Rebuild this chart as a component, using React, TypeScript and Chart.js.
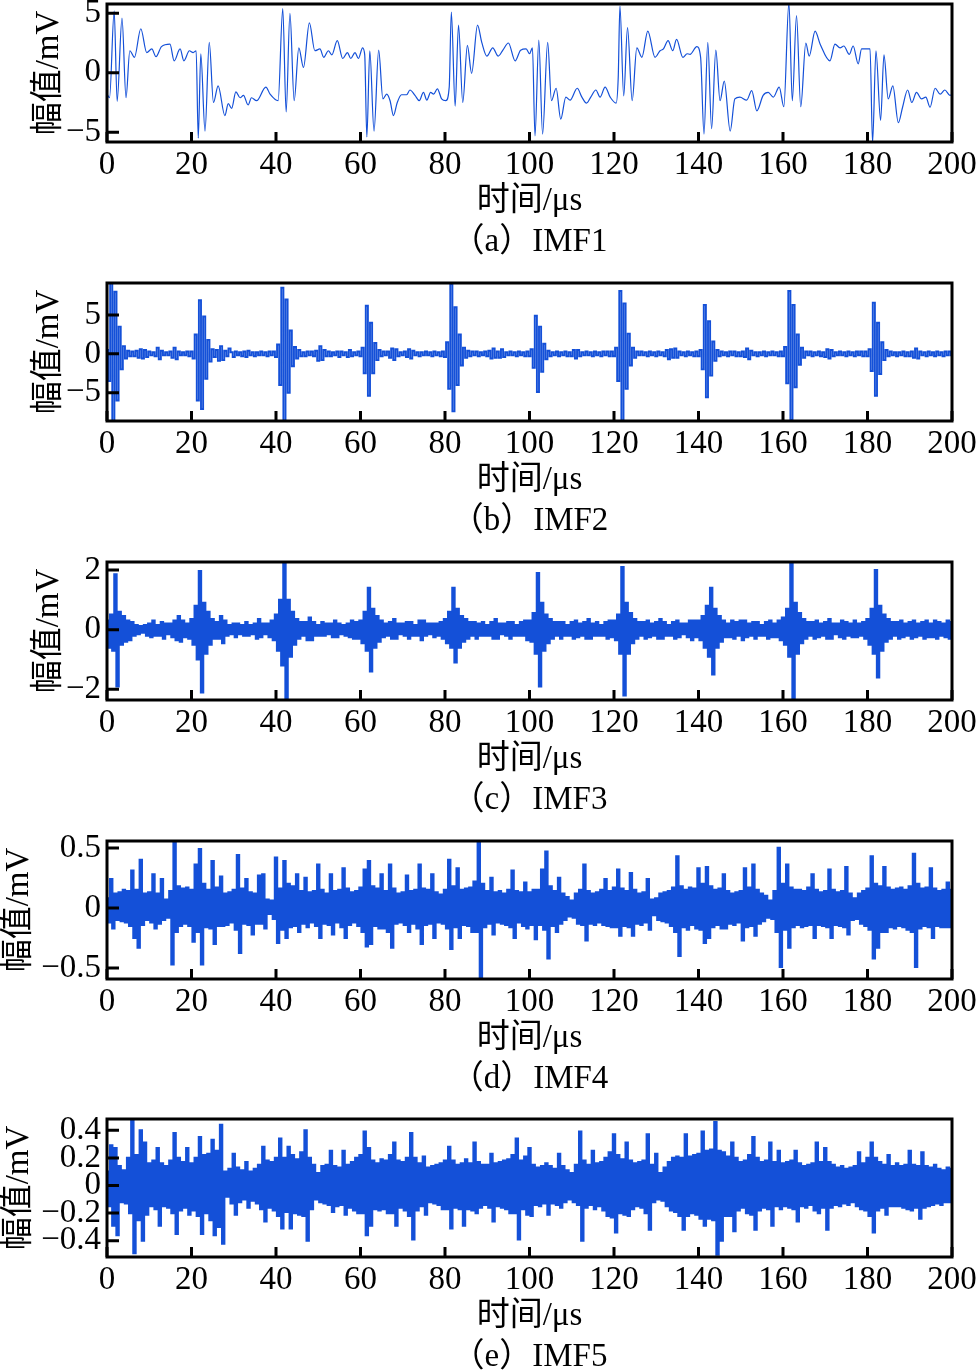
import React, { useEffect, useRef } from 'react';
import { Chart, registerables } from 'chart.js';

Chart.register(...registerables);

// ---------- data ----------
const STEP = 0.5; // µs between samples of the dense traces (IMF2..IMF5)
const X_TICKS = [0, 20, 40, 60, 80, 100, 120, 140, 160, 180, 200];

// IMF1: turning points (time µs, value mV)
const IMF1_T = [
  0, 0.6, 1.7, 2.4, 3.55, 4.5, 5.4, 6.5, 8.0, 9.4, 10.6, 11.6, 12.9, 14.9, 15.9, 17.3, 18.2, 19.5, 20.4, 21.1,
  21.6, 22.2, 23.2, 24.2, 25.2, 26.3, 27.9, 28.7, 29.5, 30.5, 31.5, 32.3, 33.4, 34.2, 35.4, 37.6, 38.6, 40.5,
  41.6, 42.4, 43.3, 44.3, 45.4, 46.5, 47.9, 49.2, 50.4, 51.3, 52.4, 53.2, 54.5, 55.8, 56.9, 57.7, 58.7, 59.5, 60.5, 61.0,
  61.5, 62.2, 63.2, 64.3, 65.3, 66.2, 67.0, 67.8, 68.7, 69.7, 70.9, 71.7, 72.9, 73.9, 74.9, 75.7, 76.6, 77.3, 78.2, 79.2, 80.2, 81.0,
  81.5, 82.4, 83.2, 84.2, 85.3, 86.3, 87.7, 88.7, 89.9, 91.3, 92.6, 93.7, 95.0, 96.6, 97.9, 99.2, 100.0, 100.7,
  101.3, 102.2, 103.1, 104.3, 105.2, 106.3, 107.4, 108.6, 109.6, 111.3, 112.4, 113.5, 114.5, 115.7, 116.7, 117.9, 119.1, 120.5, 121.0,
  121.4, 122.3, 123.2, 124.3, 125.4, 126.6, 128.0, 129.7, 130.9, 131.7, 132.8, 133.9, 134.8, 136.3, 137.3, 138.0, 139.6, 140.5,
  141.3, 142.2, 143.1, 144.1, 145.1, 146.1, 147.5, 148.6, 149.8, 151.4, 152.6, 153.8, 155.3, 156.5, 157.7, 159.1, 160.2,
  161.4, 162.2, 163.2, 164.2, 165.4, 166.2, 167.6, 168.8, 171.1, 172.3, 173.5, 174.4, 175.7, 176.6, 177.8, 178.6, 180.6,
  181.2, 182.0, 183.1, 183.9, 184.9, 186.0, 187.3, 188.3, 189.5, 190.5, 191.6, 192.8, 193.8, 194.8, 196.0, 197.2, 198.3, 199.5, 200
];
const IMF1_V = [
  -1.8, -2.1, 5.2, -2.4, 4.6, -2.1, 1.85, 1.3, 3.7, 1.7, 2.0, 1.35, 2.2, 2.4, 1.0, 2.0, 1.0, 1.85, 1.7, 1.85,
  -5.5, 1.6, -4.9, 2.55, -2.5, -1.1, -3.6, -2.6, -3.0, -1.6, -2.1, -1.9, -2.7, -2.1, -2.35, -1.2, -1.8, -2.35,
  5.4, -3.3, 5.0, -2.35, 2.1, 0.45, 4.2, 1.85, 2.0, 1.3, 1.85, 1.5, 2.7, 1.2, 1.7, 1.2, 1.7, 1.2, 2.1, 1.5,
  -5.4, 1.85, -4.9, 1.9, -2.2, -1.8, -2.35, -3.6, -2.5, -1.85, -1.85, -1.45, -1.9, -2.35, -1.65, -2.3, -1.65, -1.8, -1.35, -2.2, -2.35, -1.2,
  5.1, -2.8, 4.0, -2.5, 2.3, -0.05, 4.0, 2.55, 1.4, 2.1, 1.4, 1.9, 2.5, 1.0, 1.9, 2.0, 1.6, 2.1,
  -5.3, 2.75, -5.15, 2.55, -2.35, -1.3, -3.9, -2.05, -2.3, -1.3, -2.05, -2.55, -2.05, -1.45, -2.05, -1.2, -2.05, -2.55, -0.4,
  5.6, -1.95, 3.8, -2.35, 2.1, 1.3, 3.5, 1.3, 1.85, 2.0, 2.7, 1.85, 2.8, 1.3, 1.6, 1.55, 2.2, 1.3,
  -5.15, 2.55, -4.7, 1.9, -2.35, -0.7, -4.9, -2.2, -2.05, -2.3, -1.5, -3.2, -1.9, -1.65, -2.05, -1.2, -2.85,
  5.9, -2.35, 4.8, -2.85, 2.5, 1.4, 3.5, 2.4, 1.0, 2.4, 2.1, 2.25, 1.55, 2.25, 0.75, 2.0, 2.0,
  -5.9, 1.85, -4.0, 1.5, -2.2, -1.1, -4.2, -2.9, -1.45, -2.5, -1.65, -2.2, -2.05, -2.9, -1.3, -1.8, -1.45, -1.9, -1.8
];

// IMF2 samples (mV), one every STEP µs, 0..200 µs
const IMF2 = [
  0.5, -3.5, 9.5, -9.5, 8, -6, 3.5, -2, 1.0, -0.6, 0.4, -0.3, 0.3, -0.3, 0.4, -0.5, 0.6, -0.6, 0.5, -0.4,
  0.3, -0.2, 0.2, -0.3, 0.8, -0.7, 0.4, -0.2, 0.2, -0.2, 0.3, -0.5, 0.8, -0.7, 0.3, -0.2, 0.2, -0.2, 0.3, -0.3,
  0.3, -0.6, 2.5, -6.0, 6.9, -7.1, 4.8, -3.2, 1.8, -1.0, 0.6, -0.4, 0.5, -0.9, 1.0, -0.8, 0.4, -0.3, 0.7, 0.2,
  -0.4, 0.3, -0.2, 0.2, -0.3, 0.3, -0.4, 0.4, -0.2, 0.2, -0.3, 0.2, -0.2, 0.3, -0.2, 0.2, -0.3, 0.3, -0.2, 0.3,
  -0.4, 1.2, -4, 8.5, -8.9, 7, -5, 3, -1.6, 0.9, -0.6, 0.5, -0.3, 0.2, -0.3, 0.3, -0.2, 0.3, -0.3, 0.4,
  -0.9, 1.0, -0.8, 0.5, -0.3, 0.3, -0.3, 0.2, -0.2, 0.3, -0.4, 0.3, -0.2, 0.2, -0.4, 0.5, -0.3, 0.2, -0.2, 0.3,
  -0.3, 0.8, -2.5, 6.2, -5.4, 4, -2.5, 1.4, -0.8, 0.5, -0.3, 0.3, -0.2, 0.3, -0.5, 0.7, -0.8, 0.6, -0.3, 0.2,
  -0.2, 0.3, -0.4, 0.6, -0.6, 0.4, -0.2, 0.2, -0.3, 0.2, -0.2, 0.3, -0.2, 0.2, -0.3, 0.3, -0.2, 0.2, -0.3, 0.3,
  -0.4, 1.5, -4.5, 9.0, -7.4, 6, -4, 2.5, -1.5, 0.8, -0.5, 0.4, -0.3, 0.3, -0.2, 0.3, -0.3, 0.2, -0.2, 0.3,
  -0.3, 0.4, -0.6, 0.7, -0.5, 0.3, -0.5, 0.6, -0.4, 0.2, -0.2, 0.3, -0.2, 0.2, -0.3, 0.3, -0.2, 0.2, -0.3, 0.3,
  -0.3, 0.6, -1.8, 4.9, -4.9, 3.5, -2.3, 1.3, -0.7, 0.4, -0.3, 0.2, -0.2, 0.3, -0.3, 0.2, -0.2, 0.3, -0.3, 0.2,
  -0.3, 0.5, -0.6, 0.5, -0.3, 0.2, -0.2, 0.3, -0.2, 0.2, -0.3, 0.3, -0.2, 0.2, -0.3, 0.3, -0.2, 0.3, -0.3, 0.3,
  -0.3, 0.8, -3.5, 8.1, -8.6, 6.5, -4.5, 2.6, -1.5, 0.8, -0.5, 0.3, -0.2, 0.3, -0.2, 0.2, -0.3, 0.3, -0.2, 0.2,
  -0.3, 0.3, -0.2, 0.2, -0.3, 0.5, -0.7, 0.6, -0.5, 0.7, -0.5, 0.3, -0.2, 0.2, -0.3, 0.3, -0.2, 0.2, -0.3, 0.3,
  -0.3, 0.5, -2, 6.3, -5.6, 4.2, -2.8, 1.6, -0.9, 0.5, -0.3, 0.3, -0.2, 0.2, -0.3, 0.3, -0.2, 0.3, -0.3, 0.2,
  -0.3, 0.3, -0.4, 0.7, -0.7, 0.4, -0.2, 0.2, -0.3, 0.2, -0.2, 0.3, -0.3, 0.2, -0.2, 0.3, -0.2, 0.2, -0.3, 0.3,
  -0.3, 0.9, -3.8, 8.1, -8.5, 6.3, -4.3, 2.5, -1.4, 0.8, -0.5, 0.3, -0.2, 0.3, -0.3, 0.2, -0.2, 0.3, -0.3, 0.2,
  -0.4, 0.6, -0.6, 0.5, -0.3, 0.2, -0.2, 0.3, -0.2, 0.2, -0.3, 0.3, -0.2, 0.2, -0.3, 0.3, -0.2, 0.3, -0.3, 0.3,
  -0.3, 0.6, -2.2, 6.6, -5.4, 4, -2.6, 1.5, -0.8, 0.5, -0.3, 0.3, -0.2, 0.2, -0.3, 0.2, -0.2, 0.3, -0.3, 0.2,
  -0.3, 0.3, -0.5, 0.7, -0.6, 0.3, -0.2, 0.2, -0.3, 0.3, -0.2, 0.2, -0.3, 0.3, -0.2, 0.2, -0.3, 0.3, -0.2, 0.3,
  -0.2
];

// IMF3 samples (mV)
const IMF3 = [
  0.3, -0.6, 0.5, -0.7, 1.85, -1.9, 0.6, -0.5, 0.45, -0.4, 0.3, -0.35, 0.25, -0.2, 0.15, -0.15, 0.12, -0.1, 0.15, -0.2,
  0.2, -0.25, 0.3, -0.2, 0.15, -0.2, 0.25, -0.3, 0.2, -0.15, 0.2, -0.25, 0.3, -0.35, 0.45, -0.4, 0.3, -0.25, 0.2, -0.3,
  0.35, -0.5, 0.8, -1.0, 1.96, -2.1, 0.9, -0.8, 0.6, -0.5, 0.35, -0.3, 0.25, -0.3, 0.45, -0.45, 0.3, -0.2, 0.15, -0.15,
  0.2, -0.25, 0.2, -0.15, 0.15, -0.2, 0.25, -0.2, 0.15, -0.15, 0.2, -0.3, 0.35, -0.25, 0.2, -0.15, 0.2, -0.25, 0.3, -0.35,
  0.5, -0.7, 1.0, -1.2, 2.4, -2.45, 1.0, -0.9, 0.6, -0.5, 0.35, -0.3, 0.25, -0.2, 0.25, -0.35, 0.4, -0.35, 0.25, -0.2,
  0.15, -0.2, 0.25, -0.2, 0.2, -0.15, 0.2, -0.25, 0.3, -0.25, 0.2, -0.15, 0.15, -0.2, 0.2, -0.25, 0.3, -0.3, 0.25, -0.3,
  0.3, -0.45, 0.6, -0.7, 1.4, -1.4, 0.7, -0.6, 0.45, -0.4, 0.3, -0.25, 0.2, -0.2, 0.25, -0.3, 0.35, -0.3, 0.2, -0.15,
  0.2, -0.2, 0.25, -0.3, 0.25, -0.2, 0.15, -0.2, 0.3, -0.35, 0.3, -0.2, 0.2, -0.15, 0.2, -0.25, 0.2, -0.2, 0.25, -0.3,
  0.35, -0.45, 0.6, -0.6, 1.4, -1.1, 0.7, -0.6, 0.45, -0.4, 0.35, -0.3, 0.25, -0.2, 0.25, -0.3, 0.2, -0.2, 0.25, -0.2,
  0.15, -0.2, 0.25, -0.3, 0.35, -0.3, 0.2, -0.15, 0.2, -0.2, 0.25, -0.3, 0.25, -0.2, 0.15, -0.2, 0.25, -0.2, 0.3, -0.35,
  0.3, -0.4, 0.55, -0.8, 1.9, -1.9, 0.9, -0.7, 0.5, -0.45, 0.35, -0.3, 0.25, -0.2, 0.25, -0.3, 0.25, -0.2, 0.15, -0.2,
  0.25, -0.3, 0.3, -0.25, 0.2, -0.2, 0.25, -0.3, 0.35, -0.3, 0.2, -0.2, 0.25, -0.2, 0.15, -0.2, 0.25, -0.3, 0.3, -0.25,
  0.3, -0.35, 0.5, -0.8, 2.1, -2.2, 0.9, -0.8, 0.55, -0.45, 0.35, -0.3, 0.25, -0.2, 0.25, -0.3, 0.3, -0.25, 0.2, -0.2,
  0.25, -0.3, 0.35, -0.3, 0.25, -0.2, 0.15, -0.2, 0.25, -0.3, 0.3, -0.25, 0.2, -0.15, 0.2, -0.25, 0.3, -0.35, 0.3, -0.25,
  0.3, -0.35, 0.45, -0.6, 0.8, -0.9, 1.4, -1.5, 0.7, -0.6, 0.45, -0.4, 0.3, -0.25, 0.2, -0.25, 0.3, -0.3, 0.25, -0.2,
  0.3, -0.35, 0.3, -0.25, 0.2, -0.2, 0.25, -0.3, 0.25, -0.2, 0.15, -0.2, 0.25, -0.3, 0.3, -0.25, 0.2, -0.25, 0.3, -0.35,
  0.4, -0.5, 0.7, -0.9, 2.4, -2.4, 0.9, -0.8, 0.55, -0.45, 0.35, -0.3, 0.25, -0.2, 0.25, -0.3, 0.3, -0.25, 0.2, -0.2,
  0.25, -0.3, 0.35, -0.3, 0.2, -0.15, 0.2, -0.25, 0.3, -0.3, 0.25, -0.2, 0.2, -0.25, 0.3, -0.25, 0.2, -0.2, 0.25, -0.3,
  0.35, -0.5, 0.7, -0.8, 2.0, -1.6, 0.8, -0.7, 0.5, -0.4, 0.35, -0.3, 0.25, -0.2, 0.25, -0.3, 0.3, -0.25, 0.2, -0.2,
  0.25, -0.3, 0.3, -0.25, 0.2, -0.2, 0.25, -0.3, 0.3, -0.25, 0.2, -0.25, 0.3, -0.3, 0.25, -0.2, 0.2, -0.25, 0.3, -0.3,
  0.25
];

// IMF4 samples (mV)
const IMF4 = [
  0.08, -0.12, 0.24, -0.17, 0.12, -0.1, 0.13, -0.11, 0.15, -0.12, 0.14, -0.15, 0.31, -0.25, 0.15, -0.33, 0.40, -0.14, 0.12, -0.1,
  0.13, -0.12, 0.28, -0.17, 0.12, -0.13, 0.24, -0.1, 0.07, -0.08, 0.14, -0.47, 0.57, -0.2, 0.18, -0.15, 0.16, -0.13, 0.17, -0.15,
  0.15, -0.28, 0.36, -0.2, 0.49, -0.47, 0.2, -0.16, 0.15, -0.17, 0.39, -0.30, 0.17, -0.15, 0.26, -0.15, 0.12, -0.14, 0.13, -0.12,
  0.15, -0.18, 0.44, -0.375, 0.16, -0.13, 0.24, -0.14, 0.13, -0.22, 0.12, -0.13, 0.27, -0.13, 0.28, -0.17, 0.07, -0.05, 0.06, -0.09,
  0.42, -0.29, 0.16, -0.18, 0.39, -0.25, 0.2, -0.16, 0.18, -0.15, 0.28, -0.2, 0.14, -0.13, 0.25, -0.16, 0.13, -0.12, 0.14, -0.15,
  0.36, -0.25, 0.15, -0.13, 0.12, -0.14, 0.28, -0.22, 0.14, -0.12, 0.15, -0.16, 0.33, -0.25, 0.16, -0.14, 0.13, -0.12, 0.14, -0.15,
  0.17, -0.2, 0.32, -0.32, 0.39, -0.30, 0.18, -0.15, 0.16, -0.17, 0.28, -0.17, 0.14, -0.2, 0.36, -0.33, 0.16, -0.13, 0.12, -0.12,
  0.13, -0.14, 0.27, -0.2, 0.14, -0.13, 0.15, -0.17, 0.36, -0.30, 0.16, -0.14, 0.15, -0.13, 0.28, -0.25, 0.13, -0.12, 0.11, -0.13,
  0.15, -0.17, 0.40, -0.34, 0.18, -0.16, 0.33, -0.25, 0.15, -0.14, 0.16, -0.15, 0.17, -0.2, 0.22, -0.2, 0.57, -0.58, 0.2, -0.16,
  0.14, -0.13, 0.25, -0.22, 0.13, -0.12, 0.14, -0.13, 0.12, -0.14, 0.15, -0.16, 0.31, -0.25, 0.14, -0.12, 0.13, -0.15, 0.21, -0.17,
  0.13, -0.14, 0.15, -0.26, 0.15, -0.14, 0.32, -0.18, 0.47, -0.42, 0.18, -0.15, 0.14, -0.2, 0.25, -0.13, 0.12, -0.1, 0.09, -0.07,
  0.06, -0.08, 0.12, -0.13, 0.15, -0.14, 0.36, -0.27, 0.14, -0.13, 0.12, -0.14, 0.13, -0.12, 0.15, -0.14, 0.24, -0.15, 0.14, -0.16,
  0.17, -0.16, 0.32, -0.23, 0.16, -0.15, 0.14, -0.16, 0.29, -0.23, 0.15, -0.13, 0.12, -0.14, 0.13, -0.12, 0.24, -0.18, 0.07, -0.06,
  0.08, -0.1, 0.12, -0.11, 0.13, -0.12, 0.14, -0.15, 0.17, -0.2, 0.43, -0.40, 0.18, -0.16, 0.15, -0.18, 0.17, -0.14, 0.16, -0.17,
  0.33, -0.18, 0.2, -0.29, 0.34, -0.25, 0.18, -0.16, 0.15, -0.14, 0.16, -0.17, 0.28, -0.17, 0.14, -0.13, 0.12, -0.14, 0.13, -0.12,
  0.14, -0.27, 0.33, -0.16, 0.17, -0.15, 0.36, -0.23, 0.15, -0.13, 0.12, -0.11, 0.1, -0.08, 0.06, -0.09, 0.14, -0.2, 0.5, -0.49,
  0.2, -0.18, 0.36, -0.33, 0.17, -0.16, 0.15, -0.14, 0.15, -0.16, 0.14, -0.15, 0.17, -0.14, 0.28, -0.25, 0.15, -0.14, 0.13, -0.15,
  0.14, -0.16, 0.32, -0.25, 0.15, -0.14, 0.13, -0.15, 0.14, -0.16, 0.34, -0.22, 0.12, -0.1, 0.08, -0.09, 0.12, -0.13, 0.14, -0.15,
  0.16, -0.18, 0.43, -0.42, 0.2, -0.33, 0.18, -0.2, 0.34, -0.2, 0.17, -0.16, 0.15, -0.17, 0.16, -0.15, 0.17, -0.16, 0.15, -0.18,
  0.18, -0.2, 0.45, -0.49, 0.2, -0.17, 0.16, -0.15, 0.17, -0.16, 0.33, -0.25, 0.16, -0.15, 0.14, -0.16, 0.15, -0.16, 0.21, -0.16,
  0.15
];

// IMF5 samples (mV)
const IMF5 = [
  0.1, -0.15, 0.29, -0.29, 0.27, -0.36, 0.14, -0.12, 0.11, -0.13, 0.2, -0.2, 0.47, -0.49, 0.22, -0.25, 0.40, -0.40, 0.31, -0.21,
  0.16, -0.15, 0.18, -0.17, 0.27, -0.29, 0.16, -0.15, 0.14, -0.16, 0.18, -0.2, 0.38, -0.35, 0.2, -0.18, 0.17, -0.16, 0.27, -0.21,
  0.16, -0.18, 0.2, -0.22, 0.35, -0.35, 0.22, -0.2, 0.23, -0.25, 0.33, -0.36, 0.25, -0.3, 0.44, -0.42, 0.1, -0.08, 0.12, -0.13,
  0.23, -0.21, 0.13, -0.12, 0.11, -0.1, 0.17, -0.16, 0.1, -0.11, 0.12, -0.13, 0.15, -0.17, 0.28, -0.26, 0.18, -0.16, 0.17, -0.18,
  0.2, -0.22, 0.34, -0.31, 0.2, -0.19, 0.28, -0.31, 0.22, -0.2, 0.19, -0.21, 0.24, -0.22, 0.40, -0.40, 0.2, -0.17, 0.15, -0.1,
  0.09, -0.12, 0.14, -0.13, 0.15, -0.14, 0.25, -0.19, 0.14, -0.15, 0.13, -0.14, 0.25, -0.21, 0.15, -0.16, 0.17, -0.18, 0.2, -0.2,
  0.22, -0.2, 0.39, -0.36, 0.27, -0.29, 0.18, -0.17, 0.16, -0.18, 0.19, -0.17, 0.18, -0.2, 0.22, -0.2, 0.31, -0.29, 0.18, -0.16,
  0.17, -0.18, 0.2, -0.22, 0.38, -0.39, 0.2, -0.18, 0.16, -0.15, 0.21, -0.21, 0.13, -0.12, 0.14, -0.13, 0.15, -0.14, 0.16, -0.17,
  0.18, -0.17, 0.28, -0.31, 0.18, -0.16, 0.15, -0.17, 0.16, -0.29, 0.19, -0.17, 0.16, -0.18, 0.31, -0.2, 0.17, -0.16, 0.15, -0.14,
  0.15, -0.16, 0.23, -0.26, 0.16, -0.15, 0.17, -0.16, 0.18, -0.17, 0.19, -0.2, 0.22, -0.2, 0.34, -0.39, 0.18, -0.17, 0.21, -0.21,
  0.27, -0.22, 0.15, -0.14, 0.13, -0.15, 0.14, -0.13, 0.16, -0.21, 0.14, -0.13, 0.12, -0.14, 0.23, -0.16, 0.14, -0.12, 0.11, -0.1,
  0.09, -0.12, 0.15, -0.14, 0.39, -0.40, 0.18, -0.16, 0.15, -0.14, 0.25, -0.17, 0.16, -0.15, 0.17, -0.18, 0.2, -0.22, 0.24, -0.23,
  0.37, -0.34, 0.22, -0.2, 0.19, -0.21, 0.31, -0.22, 0.18, -0.17, 0.16, -0.15, 0.17, -0.16, 0.18, -0.2, 0.37, -0.32, 0.15, -0.12,
  0.23, -0.1, 0.09, -0.11, 0.13, -0.15, 0.17, -0.18, 0.2, -0.19, 0.21, -0.22, 0.2, -0.32, 0.37, -0.22, 0.21, -0.2, 0.22, -0.21,
  0.23, -0.24, 0.39, -0.29, 0.25, -0.24, 0.26, -0.25, 0.46, -0.50, 0.25, -0.40, 0.24, -0.22, 0.21, -0.22, 0.31, -0.33, 0.2, -0.18,
  0.17, -0.16, 0.18, -0.2, 0.22, -0.21, 0.35, -0.32, 0.2, -0.18, 0.17, -0.16, 0.18, -0.17, 0.31, -0.29, 0.17, -0.15, 0.25, -0.17,
  0.16, -0.15, 0.17, -0.16, 0.18, -0.17, 0.25, -0.26, 0.16, -0.15, 0.14, -0.16, 0.15, -0.14, 0.16, -0.18, 0.31, -0.2, 0.17, -0.16,
  0.27, -0.32, 0.17, -0.16, 0.15, -0.14, 0.13, -0.15, 0.14, -0.13, 0.12, -0.14, 0.13, -0.12, 0.14, -0.15, 0.24, -0.17, 0.16, -0.18,
  0.2, -0.22, 0.31, -0.34, 0.2, -0.18, 0.17, -0.16, 0.15, -0.21, 0.22, -0.15, 0.14, -0.15, 0.16, -0.15, 0.14, -0.16, 0.15, -0.17,
  0.25, -0.18, 0.15, -0.16, 0.14, -0.24, 0.24, -0.16, 0.14, -0.15, 0.13, -0.14, 0.15, -0.13, 0.12, -0.14, 0.11, -0.12, 0.13, -0.12,
  0.12
];

// ---------- helpers ----------
const SERIF = '"Liberation Serif", "Times New Roman", "Noto Sans CJK SC", serif';
const TRACE = '#1450d8';

const fmt = (v: number) => (v < 0 ? '\u2212' + String(Math.abs(v)) : String(v));
const sampled = (arr: number[]) => arr.map((v, i) => ({ x: i * STEP, y: v }));
const paired = (t: number[], v: number[]) => t.map((x, i) => ({ x, y: v[i] }));

const framePlugin = {
  id: 'frameTicks',
  afterDraw(chart: any) {
    const { ctx, chartArea: a, scales } = chart;
    ctx.save();
    ctx.strokeStyle = '#000';
    ctx.lineWidth = 3;
    ctx.beginPath();
    scales.x.ticks.forEach((t: any) => {
      const px = scales.x.getPixelForValue(t.value);
      ctx.moveTo(px, a.bottom);
      ctx.lineTo(px, a.bottom - 10);
    });
    scales.y.ticks.forEach((t: any) => {
      const py = scales.y.getPixelForValue(t.value);
      ctx.moveTo(a.left, py);
      ctx.lineTo(a.left + 12, py);
    });
    ctx.stroke();
    ctx.strokeRect(a.left, a.top, a.right - a.left, a.bottom - a.top);
    ctx.restore();
  },
};

type PanelProps = {
  points: { x: number; y: number }[];
  yMin: number;
  yMax: number;
  yTicks: number[];
  caption: string;
  yTitlePad: number;
  dense: boolean;
  lineWidth: number;
  plotTop: number;
};

const PAD_TOP = 20;
const PLOT_H = 138;
const CANVAS_H = 295;

function Panel(p: PanelProps) {
  const ref = useRef<HTMLCanvasElement | null>(null);
  useEffect(() => {
    if (!ref.current) return;
    const chart = new Chart(ref.current, {
      type: 'line',
      data: {
        datasets: [
          {
            data: p.points,
            borderColor: TRACE,
            borderWidth: p.lineWidth,
            pointRadius: 0,
            fill: false,
            stepped: p.dense ? 'middle' : false,
            cubicInterpolationMode: p.dense ? 'default' : 'monotone',
            tension: 0,
          },
        ],
      },
      options: {
        responsive: false,
        animation: false,
        events: [],
        layout: { padding: { left: 0, right: 28, top: PAD_TOP, bottom: 0 } },
        plugins: { legend: { display: false }, tooltip: { enabled: false }, title: { display: false } },
        scales: {
          x: {
            type: 'linear',
            min: 0,
            max: 200,
            grid: { display: false, drawTicks: false },
            border: { display: false },
            afterBuildTicks: (s: any) => {
              s.ticks = X_TICKS.map((v) => ({ value: v }));
            },
            afterFit: (s: any) => {
              s.height = CANVAS_H - PAD_TOP - PLOT_H;
              s.paddingLeft = 0;
              s.paddingRight = 0;
            },
            ticks: {
              autoSkip: false,
              maxRotation: 0,
              padding: 4,
              color: '#000',
              font: { family: SERIF, size: 33, lineHeight: 1.2 },
              callback: (v: any) => fmt(Number(v)),
            },
            title: {
              display: true,
              text: ['时间/μs', p.caption],
              color: '#000',
              font: { family: SERIF, size: 33, lineHeight: 41 / 33 },
              padding: { top: 0, bottom: 16 },
            },
          },
          y: {
            type: 'linear',
            min: p.yMin,
            max: p.yMax,
            grid: { display: false, drawTicks: false },
            border: { display: false },
            afterBuildTicks: (s: any) => {
              s.ticks = p.yTicks.map((v) => ({ value: v }));
            },
            afterFit: (s: any) => {
              s.width = 107;
              s.paddingTop = 0;
              s.paddingBottom = 0;
            },
            ticks: {
              autoSkip: false,
              padding: 6,
              color: '#000',
              font: { family: SERIF, size: 33, lineHeight: 1.2 },
              callback: (v: any) => fmt(Number(v)),
            },
            title: {
              display: true,
              text: '幅值/mV',
              color: '#000',
              font: { family: SERIF, size: 33, lineHeight: 1.2 },
              padding: { top: p.yTitlePad, bottom: 0 },
            },
          },
        },
      },
      plugins: [framePlugin],
    } as any);
    return () => chart.destroy();
  }, []);
  return (
    <div style={{ position: 'absolute', left: 0, top: p.plotTop - PAD_TOP, width: 980, height: CANVAS_H }}>
      <canvas ref={ref} width={980} height={CANVAS_H} style={{ width: 980, height: CANVAS_H, display: 'block' }} />
    </div>
  );
}

export default function App() {
  return (
    <div
      style={{
        position: 'absolute',
        left: 0,
        top: 0,
        width: 980,
        height: 1371,
        overflow: 'hidden',
        background: '#fff',
      }}
    >
      <Panel points={paired(IMF1_T, IMF1_V)} yMin={-5.82} yMax={5.78} yTicks={[-5, 0, 5]} caption="（a）IMF1" yTitlePad={30} dense={false} lineWidth={1.2} plotTop={4} />
      <Panel points={sampled(IMF2)} yMin={-8.64} yMax={9.12} yTicks={[-5, 0, 5]} caption="（b）IMF2" yTitlePad={30} dense lineWidth={1.9} plotTop={283} />
      <Panel points={sampled(IMF3)} yMin={-2.36} yMax={2.27} yTicks={[-2, 0, 2]} caption="（c）IMF3" yTitlePad={30} dense lineWidth={2.3} plotTop={562} />
      <Panel points={sampled(IMF4)} yMin={-0.592} yMax={0.558} yTicks={[-0.5, 0, 0.5]} caption="（d）IMF4" yTitlePad={0} dense lineWidth={2.3} plotTop={841} />
      <Panel points={sampled(IMF5)} yMin={-0.518} yMax={0.482} yTicks={[-0.4, -0.2, 0, 0.2, 0.4]} caption="（e）IMF5" yTitlePad={0} dense lineWidth={2.3} plotTop={1119} />
    </div>
  );
}
